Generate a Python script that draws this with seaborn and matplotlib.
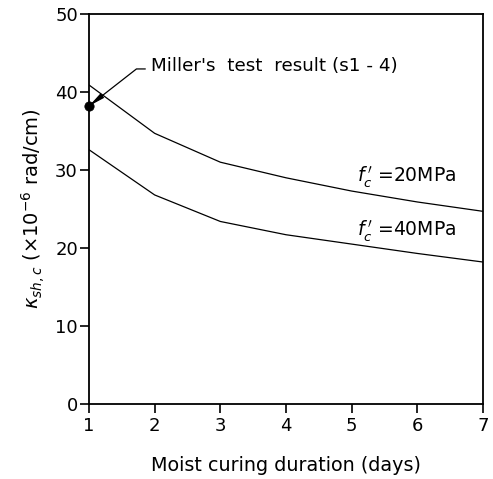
import pandas as pd
import matplotlib
matplotlib.use('Agg')
import matplotlib.pyplot as plt
import seaborn as sns

# values
days = [1, 2, 3, 4, 5, 6, 7]
kappa_20mpa = [40.9, 34.7, 31.0, 29.0, 27.3, 25.9, 24.7]
kappa_40mpa = [32.6, 26.8, 23.4, 21.7, 20.5, 19.3, 18.2]
miller_day = [1]
miller_kappa = [38.2]

data = pd.DataFrame({
    'days': days * 2,
    'kappa': kappa_20mpa + kappa_40mpa,
    'fc': ['20'] * len(days) + ['40'] * len(days),
})

sns.set_style('ticks')
plt.rcParams['font.family'] = ['DejaVu Sans']
plt.rcParams['mathtext.fontset'] = 'dejavusans'
plt.rcParams['text.color'] = 'black'
plt.rcParams['axes.labelcolor'] = 'black'

fig = plt.figure(figsize=(4.93, 4.79), dpi=100)
ax = fig.add_axes([0.1805, 0.1566, 0.7992, 0.8142])

sns.lineplot(data=data, x='days', y='kappa', units='fc', estimator=None,
             color='black', linewidth=0.9, ax=ax)
sns.scatterplot(x=miller_day, y=miller_kappa, color='black', s=45,
                edgecolor='black', zorder=5, clip_on=False, ax=ax)

# leader from the label down to Miller's point
ax.annotate("Miller's  test  result (s1 - 4)", xy=(miller_day[0], miller_kappa[0]),
            xytext=(1.95, 43.3), fontsize=13.2, va='center', ha='left',
            arrowprops=dict(arrowstyle='-|>,head_length=0.7,head_width=0.12',
                            connectionstyle='angle,angleA=0,angleB=38',
                            color='black', lw=0.9, shrinkA=2, shrinkB=0,
                            relpos=(0, 0.35)))

ax.text(5.08, 29.1, r"$f_c^{\,\prime}$ =20MPa", fontsize=13.5, va='center', ha='left')
ax.text(5.08, 22.2, r"$f_c^{\,\prime}$ =40MPa", fontsize=13.5, va='center', ha='left')

ax.set_xlim(1, 7)
ax.set_ylim(0, 50)
ax.set_xticks(days)
ax.set_yticks([0, 10, 20, 30, 40, 50])
ax.tick_params(axis='both', direction='out', length=6.5, width=1.2,
               labelsize=13, colors='black')
ax.tick_params(axis='x', pad=3)
ax.tick_params(axis='y', pad=1.5)
for side in ['top', 'right', 'bottom', 'left']:
    ax.spines[side].set_visible(True)
    ax.spines[side].set_linewidth(1.3)
    ax.spines[side].set_color('black')

ax.set_xlabel('Moist curing duration (days)', fontsize=13.8, labelpad=15)
ax.set_ylabel(r"$\kappa_{sh,c}$ ($\times 10^{-6}$ rad/cm)", fontsize=14, labelpad=6)

fig.savefig('out.png', dpi=100)
